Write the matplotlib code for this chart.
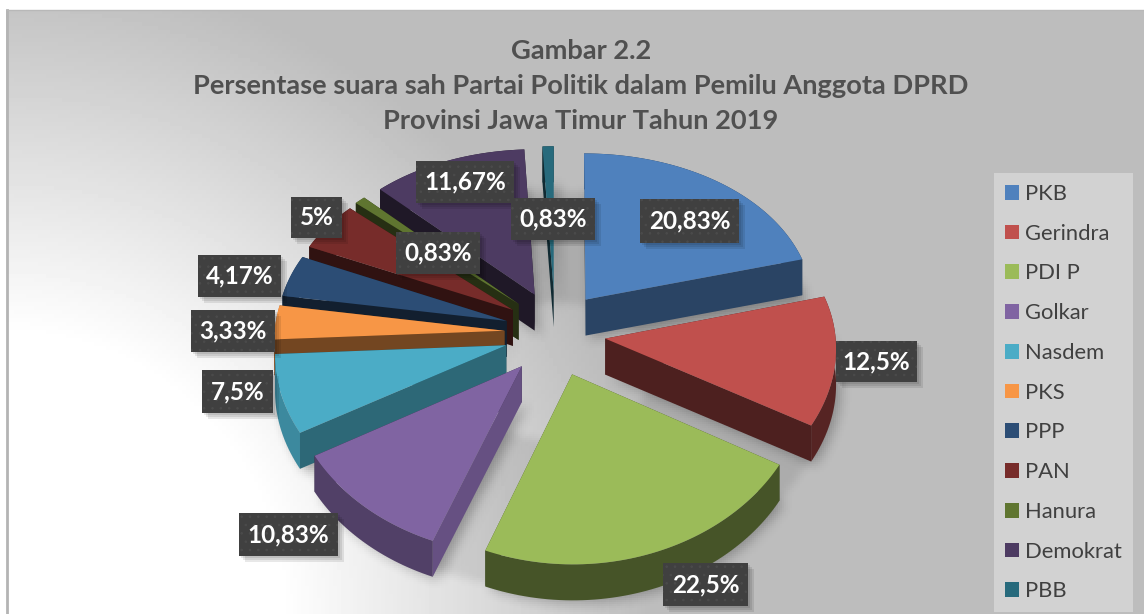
import numpy as np
import matplotlib
matplotlib.use("Agg")
import matplotlib.pyplot as plt
from matplotlib.patches import Polygon, Rectangle, Patch
from matplotlib.path import Path

parties = ["PKB", "Gerindra", "PDI P", "Golkar", "Nasdem", "PKS", "PPP", "PAN", "Hanura", "Demokrat", "PBB"]
persen = [20.83, 12.5, 22.5, 10.83, 7.5, 3.33, 4.17, 5, 0.83, 11.67, 0.83]
label_txt = ["20,83%", "12,5%", "22,5%", "10,83%", "7,5%", "3,33%", "4,17%", "5%", "0,83%", "11,67%", "0,83%"]
colors = ["#4f81bd", "#c0504d", "#9bbb59", "#8064a2", "#4bacc6", "#f79646", "#2c4d75", "#772c2a", "#5f7530", "#4d3b62", "#276a7c"]

# label boxes in pixels: left, top, right, bottom
boxes = [(640, 199, 739, 243), (836, 341, 917, 382), (663, 563, 748, 606), (239, 513, 338, 556),
         (202, 370, 273, 413), (191, 310, 275, 352), (198, 255, 281, 297), (291, 197, 342, 238),
         (396, 232, 480, 274), (416, 161, 514, 203), (511, 198, 595, 240)]

title = "Gambar 2.2\nPersentase suara sah Partai Politik dalam Pemilu Anggota DPRD\nProvinsi Jawa Timur Tahun 2019"

# fake 3d settings
CX, CY = 555, 333
RX, RY = 230, 165
PERSP_X, PERSP_Y = 0.05, 0.09
EXPLODE_X, EXPLODE_Y = 0.22, 0.26
THICK = 36


def project(u, v, z=0):
    return CX + RX * u / (1 + PERSP_X * v), CY - RY * v / (1 + PERSP_Y * v) + THICK * z


def shade(c, f):
    return tuple(x * f for x in matplotlib.colors.to_rgb(c))


def blur(img, n):
    for k in (0, 1):
        for _ in range(2):
            img = np.apply_along_axis(lambda r: np.convolve(r, np.ones(n) / n, mode="same"), k, img)
    return img


plt.rcParams["font.family"] = ["Lato", "DejaVu Sans"]
plt.rcParams["hatch.linewidth"] = 0.6
fig = plt.figure(figsize=(11.44, 6.14), dpi=100)
ax = fig.add_axes([0, 0, 1, 1])
ax.set_xlim(0, 1144)
ax.set_ylim(614, 0)
ax.axis("off")

# background gradient, white around the lower left corner
yy, xx = np.mgrid[10:614:151j, 6:1144:285j]
t = np.clip((np.hypot(xx, 614 - yy) - 280) / 370, 0, 1)
ax.imshow(1 - 0.26 * t, extent=(6, 1144, 614, 10), cmap="gray", vmin=0, vmax=1, aspect="auto", zorder=0)
ax.plot([7, 7], [10, 614], color="#b4b4b4", lw=2, zorder=1)
ax.plot([7, 1144], [10, 10], color="#b8b8b8", lw=1, zorder=1)

# slice outlines
angles = np.cumsum([0] + [p / sum(persen) * 360 for p in persen])
tops, lows = [], []
for i in range(len(persen)):
    mid = np.radians((angles[i] + angles[i + 1]) / 2)
    ou, ov = EXPLODE_X * np.sin(mid), EXPLODE_Y * np.cos(mid)
    th = np.radians(np.linspace(angles[i], angles[i + 1], 60))
    tops.append([project(ou, ov)] + [project(ou + np.sin(a), ov + np.cos(a)) for a in th])
    lows.append([project(ou, ov, 1)] + [project(ou + np.sin(a), ov + np.cos(a), 1) for a in th])

# soft shadow on the floor
gy, gx = np.mgrid[100:614:257j, 200:900:350j]
pts = np.c_[gx.ravel(), gy.ravel()]
floor = np.zeros(gx.shape, dtype=bool)
for i in range(len(persen)):
    floor |= Path(np.array(lows[i]) + (5, 3)).contains_points(pts).reshape(gx.shape)
th = np.radians(np.linspace(0, 360, 180))
ring = Path([project(1.2 * np.sin(a), 1.2 * np.cos(a), 1) for a in th]).contains_points(pts).reshape(gx.shape)
hole = Path([project(0.42 * np.sin(a), 0.42 * np.cos(a), 1) for a in th]).contains_points(pts).reshape(gx.shape)
alpha = 0.27 * blur(floor.astype(float), 7) + 0.09 * blur((ring & ~hole).astype(float), 5)
rgba = np.zeros(gx.shape + (4,))
rgba[..., 3] = np.clip(alpha, 0, 1)
ax.imshow(rgba, extent=(200, 900, 614, 100), aspect="auto", zorder=1)
ax.set_xlim(0, 1144)
ax.set_ylim(614, 0)

# slices, far ones first
order = sorted(range(len(persen)), key=lambda i: -np.cos(np.radians((angles[i] + angles[i + 1]) / 2)))
z = 2
for i in order:
    a0, a1 = angles[i], angles[i + 1]
    mid = np.radians((a0 + a1) / 2)
    top, low, c = tops[i], lows[i], colors[i]
    faces = [(1, (a0 + 270) % 360), (len(top) - 1, (a1 + 90) % 360)]
    # cut faces turned away go first, then the rim, then the ones facing us
    for e, nrm in faces:
        if np.cos(np.radians(nrm)) > 0:
            ax.add_patch(Polygon([top[0], top[e], low[e], low[0]], fc=shade(c, 0.4), ec="none", zorder=z))
    f = 0.45 + 0.35 * np.clip((-np.sin(mid) - 0.3) / 0.66, 0, 1)
    ax.add_patch(Polygon(top[1:] + low[1:][::-1], fc=shade(c, f), ec="none", zorder=z))
    for e, nrm in faces:
        if np.cos(np.radians(nrm)) <= 0:
            f = 0.4 + 0.4 * np.clip((190 - nrm) / 79, 0, 1)
            ax.add_patch(Polygon([top[0], top[e], low[e], low[0]], fc=shade(c, f), ec="none", zorder=z))
    ax.add_patch(Polygon(top, fc=c, ec="none", zorder=z))
    z += 1

# data labels
for (x0, y0, x1, y1), txt in zip(boxes, label_txt):
    for off in (2, 4, 6):
        ax.add_patch(Rectangle((x0 + off, y0 + off), x1 - x0, y1 - y0, fc="black", alpha=0.09, ec="none", zorder=29))
    ax.add_patch(Rectangle((x0, y0), x1 - x0, y1 - y0, fc="#404040", ec="#4b4b4b", lw=0, hatch="..", zorder=30))
    ax.text((x0 + x1) / 2, (y0 + y1) / 2, txt, color="white", fontsize=17.5, fontweight="bold",
            ha="center", va="center", zorder=31)

ax.text(581, 86, title, color="#505050", fontsize=19.6, fontweight="bold", ha="center", va="center",
        linespacing=1.54, zorder=31)

# legend
handles = [Patch(fc=c, ec="none", label=p) for c, p in zip(colors, parties)]
leg = ax.legend(handles=handles, loc="upper left", bbox_to_anchor=(994 / 1144, 1 - 173 / 614), frameon=True,
                facecolor="#d2d2d2", edgecolor="none", fancybox=False, framealpha=1, fontsize=15.8,
                labelcolor="#404040", handlelength=0.65, handleheight=0.65, handletextpad=0.28,
                labelspacing=0.9, borderpad=0.5, borderaxespad=0)
leg.set_zorder(32)

fig.savefig("out.png", dpi=100)
